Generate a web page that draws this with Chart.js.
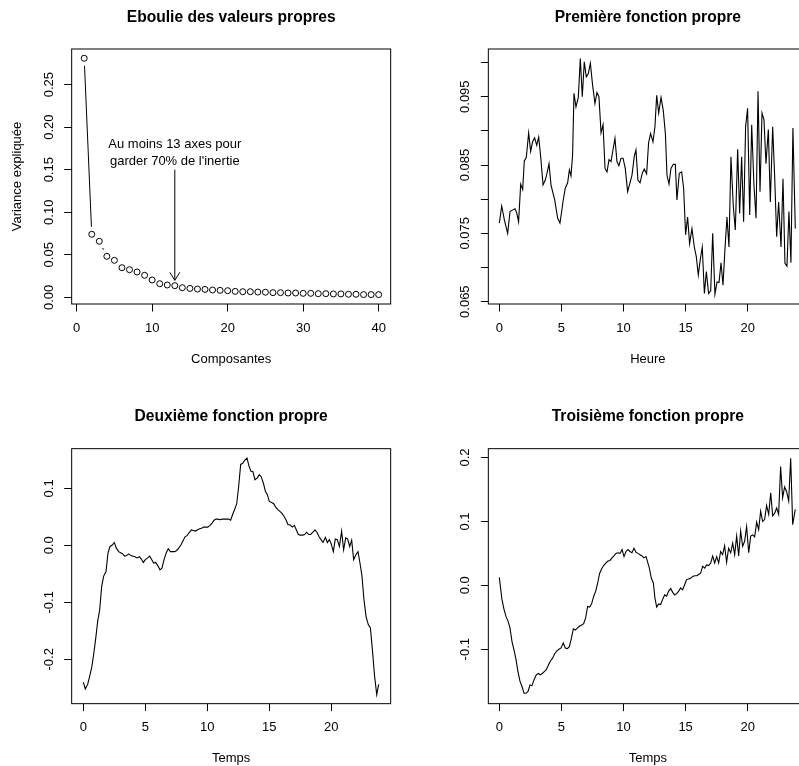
<!DOCTYPE html>
<html>
<head>
<meta charset="utf-8">
<title>Fonctions propres</title>
<script src="https://cdn.jsdelivr.net/npm/chart.js@4.4.1/dist/chart.umd.min.js"></script>
<style>
  html, body { margin: 0; padding: 0; background: #fff; overflow: hidden; }
  #page { position: relative; width: 799px; height: 766px; overflow: hidden; background: #fff; }
  canvas { position: absolute; }
</style>
</head>
<body>
<div id="page">
  <canvas id="c1" width="400" height="383" style="left:0;top:0"></canvas>
  <canvas id="c2" width="420" height="383" style="left:400px;top:0"></canvas>
  <canvas id="c3" width="400" height="383" style="left:0;top:383px"></canvas>
  <canvas id="c4" width="420" height="383" style="left:400px;top:383px"></canvas>
</div>
<script>
// ---- Eboulie des valeurs propres ----
const composantes = [1, 2, 3, 4, 5, 6, 7, 8, 9, 10, 11, 12, 13, 14, 15, 16, 17, 18, 19, 20,
  21, 22, 23, 24, 25, 26, 27, 28, 29, 30, 31, 32, 33, 34, 35, 36, 37, 38, 39, 40];
const varianceExpliquee = [0.281, 0.0741, 0.0659, 0.0482, 0.0435, 0.0348, 0.0325, 0.0298, 0.0259, 0.0204,
  0.0160, 0.0145, 0.0137, 0.0113, 0.0105, 0.0097, 0.0093, 0.0086, 0.0082, 0.0078,
  0.0070, 0.0066, 0.0066, 0.0062, 0.0060, 0.0055, 0.0055, 0.0051, 0.0051, 0.0047,
  0.0047, 0.0043, 0.0043, 0.0040, 0.0040, 0.0036, 0.0036, 0.0032, 0.0032, 0.0032];

// ---- Premiere fonction propre ----
const heure = [0.00, 0.19, 0.40, 0.67, 0.86, 1.05, 1.26, 1.40, 1.55, 1.72,
  1.88, 2.01, 2.17, 2.36, 2.52, 2.68, 2.84, 3.01, 3.17, 3.33,
  3.52, 3.70, 3.84, 4.00, 4.16, 4.32, 4.46, 4.59, 4.70, 4.88,
  5.02, 5.13, 5.31, 5.50, 5.64, 5.77, 5.90, 6.01, 6.17, 6.36,
  6.52, 6.68, 6.84, 7.00, 7.17, 7.33, 7.51, 7.70, 7.86, 8.02,
  8.19, 8.35, 8.51, 8.67, 8.83, 8.99, 9.15, 9.31, 9.47, 9.63,
  9.80, 9.96, 10.14, 10.33, 10.52, 10.68, 10.87, 11.00, 11.16, 11.33,
  11.51, 11.67, 11.86, 12.02, 12.18, 12.37, 12.53, 12.67, 12.83, 13.02,
  13.20, 13.37, 13.50, 13.66, 13.82, 14.01, 14.17, 14.30, 14.49, 14.68,
  14.84, 15.00, 15.16, 15.32, 15.51, 15.70, 15.86, 16.02, 16.18, 16.34,
  16.51, 16.67, 16.85, 17.02, 17.18, 17.36, 17.53, 17.69, 17.85, 18.01,
  18.17, 18.33, 18.49, 18.65, 18.84, 19.00, 19.19, 19.35, 19.51, 19.67,
  19.83, 19.99, 20.16, 20.32, 20.50, 20.67, 20.83, 20.99, 21.15, 21.31,
  21.47, 21.66, 21.82, 22.01, 22.17, 22.33, 22.49, 22.68, 22.84, 23.00,
  23.16, 23.32, 23.48, 23.64, 23.83];
const fonction1 = [0.0765, 0.0790, 0.0770, 0.0750, 0.0782, 0.0784, 0.0786, 0.0780, 0.0767, 0.0822,
  0.0814, 0.0856, 0.0861, 0.0897, 0.0870, 0.0884, 0.0890, 0.0879, 0.0891, 0.0862,
  0.0821, 0.0828, 0.0838, 0.0852, 0.0821, 0.0809, 0.0799, 0.0784, 0.0772, 0.0765,
  0.0782, 0.0797, 0.0816, 0.0824, 0.0843, 0.0834, 0.0865, 0.0955, 0.0935, 0.0949,
  0.1006, 0.0950, 0.1001, 0.0979, 0.0984, 0.0999, 0.0967, 0.0940, 0.0956, 0.0950,
  0.0897, 0.0909, 0.0845, 0.0840, 0.0858, 0.0855, 0.0872, 0.0889, 0.0855, 0.0849,
  0.0860, 0.0860, 0.0845, 0.0811, 0.0824, 0.0835, 0.0863, 0.0872, 0.0828, 0.0824,
  0.0838, 0.0844, 0.0837, 0.0883, 0.0896, 0.0884, 0.0906, 0.0952, 0.0926, 0.0949,
  0.0930, 0.0896, 0.0835, 0.0822, 0.0845, 0.0851, 0.0851, 0.0799, 0.0838, 0.0840,
  0.0816, 0.0748, 0.0774, 0.0735, 0.0757, 0.0730, 0.0716, 0.0689, 0.0712, 0.0730,
  0.0662, 0.0694, 0.0662, 0.0666, 0.0750, 0.0661, 0.0679, 0.0678, 0.0707, 0.0674,
  0.0728, 0.0774, 0.0730, 0.0862, 0.0789, 0.0755, 0.0873, 0.0779, 0.0862, 0.0767,
  0.0906, 0.0933, 0.0777, 0.0909, 0.0821, 0.0772, 0.0958, 0.0811, 0.0926, 0.0916,
  0.0852, 0.0902, 0.0796, 0.0906, 0.0833, 0.0745, 0.0796, 0.0730, 0.0830, 0.0706,
  0.0702, 0.0782, 0.0707, 0.0904, 0.0757];

// ---- Deuxieme fonction propre ----
const temps2 = [0.00, 0.16, 0.35, 0.51, 0.67, 0.83, 0.99, 1.16, 1.32, 1.48,
  1.64, 1.83, 1.99, 2.15, 2.31, 2.50, 2.66, 2.85, 3.01, 3.17,
  3.33, 3.49, 3.66, 3.84, 4.01, 4.17, 4.33, 4.52, 4.68, 4.84,
  5.00, 5.19, 5.35, 5.51, 5.67, 5.83, 6.02, 6.18, 6.34, 6.51,
  6.69, 6.85, 7.02, 7.20, 7.37, 7.53, 7.69, 7.88, 8.04, 8.20,
  8.36, 8.52, 8.71, 8.87, 9.03, 9.19, 9.38, 9.54, 9.70, 9.87,
  10.03, 10.22, 10.38, 10.54, 10.70, 10.86, 11.05, 11.21, 11.37, 11.53,
  11.72, 11.88, 12.04, 12.20, 12.37, 12.53, 12.69, 12.85, 13.01, 13.20,
  13.36, 13.52, 13.68, 13.84, 14.01, 14.19, 14.35, 14.52, 14.68, 14.84,
  15.00, 15.19, 15.35, 15.51, 15.67, 15.83, 16.02, 16.18, 16.34, 16.51,
  16.67, 16.85, 17.02, 17.18, 17.34, 17.50, 17.69, 17.85, 18.01, 18.17,
  18.33, 18.52, 18.68, 18.84, 19.01, 19.17, 19.33, 19.52, 19.68, 19.84,
  20.00, 20.16, 20.32, 20.48, 20.65, 20.83, 20.99, 21.16, 21.32, 21.48,
  21.64, 21.80, 21.99, 22.15, 22.31, 22.47, 22.63, 22.80, 22.98, 23.15,
  23.31, 23.49, 23.66, 23.82];
const fonction2 = [-0.240, -0.252, -0.244, -0.230, -0.215, -0.192, -0.165, -0.133, -0.113, -0.072,
  -0.054, -0.046, -0.013, -0.002, 0.000, 0.005, -0.005, -0.011, -0.013, -0.015,
  -0.019, -0.018, -0.015, -0.018, -0.019, -0.020, -0.022, -0.020, -0.024, -0.030,
  -0.025, -0.022, -0.019, -0.025, -0.031, -0.030, -0.036, -0.043, -0.040, -0.025,
  -0.013, -0.006, -0.011, -0.011, -0.011, -0.009, -0.005, 0.001, 0.008, 0.015,
  0.017, 0.022, 0.027, 0.026, 0.025, 0.027, 0.029, 0.030, 0.032, 0.032,
  0.032, 0.035, 0.039, 0.044, 0.046, 0.046, 0.045, 0.046, 0.046, 0.046,
  0.046, 0.044, 0.054, 0.063, 0.073, 0.104, 0.142, 0.144, 0.149, 0.153,
  0.139, 0.130, 0.129, 0.115, 0.118, 0.124, 0.120, 0.109, 0.095, 0.089,
  0.077, 0.075, 0.073, 0.067, 0.063, 0.060, 0.056, 0.051, 0.045, 0.036,
  0.036, 0.032, 0.035, 0.027, 0.019, 0.018, 0.018, 0.019, 0.023, 0.019,
  0.019, 0.023, 0.027, 0.023, 0.015, 0.010, 0.005, 0.014, 0.005, 0.010,
  0.002, -0.011, 0.011, 0.010, -0.002, 0.025, -0.008, 0.013, 0.011, -0.002,
  0.009, -0.025, -0.016, -0.011, -0.031, -0.054, -0.095, -0.125, -0.139, -0.145,
  -0.183, -0.230, -0.262, -0.244];

// ---- Troisieme fonction propre ----
const temps3 = [0.00, 0.21, 0.38, 0.54, 0.70, 0.86, 1.02, 1.18, 1.34, 1.50,
  1.66, 1.82, 1.99, 2.15, 2.31, 2.47, 2.63, 2.79, 2.98, 3.14,
  3.30, 3.46, 3.62, 3.78, 3.97, 4.13, 4.29, 4.46, 4.62, 4.80,
  4.97, 5.15, 5.31, 5.48, 5.64, 5.80, 5.96, 6.12, 6.28, 6.44,
  6.63, 6.79, 6.95, 7.11, 7.27, 7.43, 7.60, 7.76, 7.92, 8.08,
  8.24, 8.40, 8.59, 8.75, 8.91, 9.07, 9.23, 9.39, 9.55, 9.72,
  9.88, 10.04, 10.20, 10.36, 10.52, 10.68, 10.84, 11.00, 11.16, 11.33,
  11.49, 11.65, 11.81, 11.92, 12.08, 12.24, 12.40, 12.53, 12.67, 12.83,
  12.99, 13.15, 13.31, 13.47, 13.63, 13.80, 13.96, 14.12, 14.28, 14.44,
  14.60, 14.76, 14.92, 15.08, 15.24, 15.41, 15.57, 15.73, 15.89, 16.05,
  16.21, 16.37, 16.53, 16.69, 16.85, 17.02, 17.18, 17.34, 17.50, 17.66,
  17.82, 17.98, 18.14, 18.30, 18.46, 18.63, 18.79, 18.95, 19.11, 19.27,
  19.43, 19.59, 19.75, 19.91, 20.08, 20.24, 20.40, 20.56, 20.72, 20.88,
  21.04, 21.20, 21.36, 21.52, 21.69, 21.85, 22.01, 22.17, 22.33, 22.49,
  22.65, 22.81, 22.97, 23.13, 23.30, 23.46, 23.62, 23.83];
const fonction3 = [0.0125, -0.022, -0.038, -0.049, -0.056, -0.067, -0.088, -0.101, -0.116, -0.135,
  -0.150, -0.158, -0.169, -0.169, -0.166, -0.156, -0.157, -0.148, -0.140, -0.138,
  -0.140, -0.138, -0.135, -0.132, -0.124, -0.118, -0.114, -0.107, -0.103, -0.100,
  -0.098, -0.090, -0.098, -0.099, -0.096, -0.083, -0.068, -0.070, -0.067, -0.064,
  -0.062, -0.060, -0.051, -0.033, -0.034, -0.029, -0.017, -0.009, 0.004, 0.019,
  0.026, 0.031, 0.035, 0.038, 0.039, 0.043, 0.046, 0.050, 0.051, 0.050,
  0.056, 0.045, 0.053, 0.056, 0.053, 0.051, 0.058, 0.052, 0.050, 0.048,
  0.046, 0.043, 0.045, 0.038, 0.027, 0.011, 0.004, -0.020, -0.034, -0.029,
  -0.030, -0.022, -0.015, -0.017, -0.009, -0.005, -0.011, -0.015, -0.013, -0.009,
  -0.004, -0.007, 0.001, 0.009, 0.010, 0.011, 0.014, 0.015, 0.015, 0.017,
  0.019, 0.030, 0.027, 0.032, 0.031, 0.035, 0.046, 0.035, 0.045, 0.035,
  0.053, 0.048, 0.062, 0.036, 0.058, 0.051, 0.066, 0.048, 0.077, 0.046,
  0.085, 0.061, 0.069, 0.092, 0.051, 0.077, 0.079, 0.076, 0.099, 0.087,
  0.116, 0.100, 0.103, 0.125, 0.111, 0.145, 0.109, 0.113, 0.121, 0.111,
  0.186, 0.137, 0.154, 0.147, 0.132, 0.199, 0.095, 0.119];

// ---- graduations ----
const ticksX40 = [0, 10, 20, 30, 40];
const ticksX24 = [0, 5, 10, 15, 20];
const ticksY1 = [0, 0.05, 0.10, 0.15, 0.20, 0.25];
const labelsY1 = ['0.00', '0.05', '0.10', '0.15', '0.20', '0.25'];
const ticksY2 = [0.065, 0.070, 0.075, 0.080, 0.085, 0.090, 0.095, 0.100];
const labelsY2 = ['0.065', '', '0.075', '', '0.085', '', '0.095', ''];
const ticksY3 = [-0.2, -0.1, 0, 0.1];
const labelsY3 = ['-0.2', '-0.1', '0.0', '0.1'];
const ticksY4 = [-0.1, 0, 0.1, 0.2];
const labelsY4 = ['-0.1', '0.0', '0.1', '0.2'];

// annotation of the scree plot
const noteX = 13, noteY = 0.17;
const noteLines = ['Au moins 13 axes pour', "garder 70% de l'inertie"];
const arrowX = 13, arrowFrom = 0.15, arrowTo = 0.02;

const FONT = '"Liberation Sans", Arial, Helvetica, sans-serif';
Chart.defaults.font.family = FONT;
Chart.defaults.color = '#000';

const pts = (xs, ys) => xs.map((x, i) => ({ x: x, y: ys[i] }));

// box around the plot region, like R's box()
const boxPlugin = {
  id: 'rbox',
  afterDatasetsDraw(chart) {
    const { ctx, chartArea: a } = chart;
    ctx.save();
    ctx.strokeStyle = '#000';
    ctx.lineWidth = 1;
    ctx.strokeRect(a.left, a.top, a.right - a.left, a.bottom - a.top);
    ctx.restore();
  }
};

// y tick labels written parallel to the axis
const yLabelPlugin = {
  id: 'rYLabels',
  afterDraw(chart, args, opts) {
    const { ctx, chartArea: a } = chart;
    const y = chart.scales.y;
    ctx.save();
    ctx.fillStyle = '#000';
    ctx.font = '13px ' + FONT;
    ctx.textAlign = 'center';
    ctx.textBaseline = 'middle';
    opts.values.forEach((v, i) => {
      if (!opts.labels[i]) return;
      ctx.save();
      ctx.translate(a.left - 22.5, y.getPixelForValue(v));
      ctx.rotate(-Math.PI / 2);
      ctx.fillText(opts.labels[i], 0, 0);
      ctx.restore();
    });
    ctx.restore();
  }
};

// type="b" segments, arrow and note on the scree plot
const screePlugin = {
  id: 'scree',
  afterDatasetsDraw(chart) {
    const { ctx, scales: { x, y } } = chart;
    const gap = 7.5;
    ctx.save();
    ctx.strokeStyle = '#000';
    ctx.lineWidth = 1;
    for (let i = 0; i < composantes.length - 1; i++) {
      const x0 = x.getPixelForValue(composantes[i]), y0 = y.getPixelForValue(varianceExpliquee[i]);
      const x1 = x.getPixelForValue(composantes[i + 1]), y1 = y.getPixelForValue(varianceExpliquee[i + 1]);
      const d = Math.hypot(x1 - x0, y1 - y0);
      if (d <= 2 * gap) continue;
      const ux = (x1 - x0) / d, uy = (y1 - y0) / d;
      ctx.beginPath();
      ctx.moveTo(x0 + ux * gap, y0 + uy * gap);
      ctx.lineTo(x1 - ux * gap, y1 - uy * gap);
      ctx.stroke();
    }
    // arrow
    const ax = x.getPixelForValue(arrowX);
    const ay0 = y.getPixelForValue(arrowFrom), ay1 = y.getPixelForValue(arrowTo);
    ctx.beginPath();
    ctx.moveTo(ax, ay0);
    ctx.lineTo(ax, ay1);
    ctx.moveTo(ax - 5, ay1 - 8);
    ctx.lineTo(ax, ay1);
    ctx.lineTo(ax + 5, ay1 - 8);
    ctx.stroke();
    // note
    ctx.fillStyle = '#000';
    ctx.font = '13px ' + FONT;
    ctx.textAlign = 'center';
    ctx.textBaseline = 'middle';
    const nx = x.getPixelForValue(noteX), ny = y.getPixelForValue(noteY);
    ctx.fillText(noteLines[0], nx, ny - 8.3);
    ctx.fillText(noteLines[1], nx, ny + 8.3);
    ctx.restore();
  }
};

function makeChart(id, g, p) {
  const grid = { drawOnChartArea: false, drawTicks: true, tickLength: 7.5, color: '#000', tickColor: '#000', lineWidth: 1 };
  return new Chart(document.getElementById(id), {
    type: 'line',
    data: { datasets: p.datasets },
    options: {
      responsive: false,
      animation: false,
      devicePixelRatio: 1,
      layout: { padding: { left: 0, top: 0, right: g.W - g.right, bottom: 0 } },
      plugins: {
        legend: { display: false },
        tooltip: { enabled: false },
        title: {
          display: true,
          text: p.title,
          fullSize: false,
          color: '#000',
          font: { size: 15.6, weight: 'bold', lineHeight: 1.2 },
          padding: { top: g.titleY - 9.36, bottom: g.top - (g.titleY - 9.36) - 18.72 }
        },
        rYLabels: { values: p.yTicks, labels: p.yLabels }
      },
      scales: {
        x: {
          type: 'linear',
          min: p.xMin, max: p.xMax,
          afterBuildTicks: s => { s.ticks = p.xTicks.map(v => ({ value: v })); },
          afterFit: s => { s.height = g.H - g.bottom; },
          grid: grid,
          border: { display: false },
          ticks: { padding: g.xTickY - g.bottom - 7.5 - 7.8, font: { size: 13 }, color: '#000', maxRotation: 0, autoSkip: false },
          title: {
            display: true, text: p.xTitle, color: '#000',
            font: { size: 13, lineHeight: 1 },
            padding: { top: 0, bottom: g.H - g.xTitleY - 6.5 }
          }
        },
        y: {
          type: 'linear',
          min: p.yMin, max: p.yMax,
          afterBuildTicks: s => { s.ticks = p.yTicks.map(v => ({ value: v })); },
          afterFit: s => { s.width = g.left; },
          grid: grid,
          border: { display: false },
          ticks: { display: false },
          title: p.yTitle ? {
            display: true, text: p.yTitle, color: '#000',
            font: { size: 13, lineHeight: 1 },
            padding: { top: g.yTitleX - 6.5, bottom: 0 }
          } : { display: false }
        }
      }
    },
    plugins: [boxPlugin, yLabelPlugin].concat(p.extra || [])
  });
}

const lineSet = (xs, ys) => ({
  data: pts(xs, ys), borderColor: '#000', borderWidth: 1.1,
  pointRadius: 0, tension: 0, fill: false
});

makeChart('c1',
  { W: 400, H: 383, left: 71.67, right: 390.67, top: 49, bottom: 304, titleY: 17.33, xTickY: 328.33, xTitleY: 359.33, yTitleX: 17.33 },
  {
    title: 'Eboulie des valeurs propres', xTitle: 'Composantes', yTitle: 'Variance expliquée',
    xMin: -0.66, xMax: 41.59, yMin: -0.00784, yMax: 0.2919,
    xTicks: ticksX40, yTicks: ticksY1, yLabels: labelsY1,
    datasets: [{
      data: pts(composantes, varianceExpliquee), showLine: false,
      pointRadius: 3, pointBorderWidth: 1, pointBorderColor: '#000',
      pointBackgroundColor: 'rgba(0,0,0,0)', borderColor: '#000'
    }],
    extra: [screePlugin]
  });

makeChart('c2',
  { W: 420, H: 383, left: 88.33, right: 407.33, top: 49, bottom: 304, titleY: 17.33, xTickY: 328.33, xTitleY: 359.33 },
  {
    title: 'Première fonction propre', xTitle: 'Heure',
    xMin: -0.886, xMax: 24.80, yMin: 0.06466, yMax: 0.10198,
    xTicks: ticksX24, yTicks: ticksY2, yLabels: labelsY2,
    datasets: [lineSet(heure, fonction1)]
  });

makeChart('c3',
  { W: 400, H: 383, left: 71.67, right: 390.67, top: 65.67, bottom: 320.67, titleY: 34, xTickY: 344.33, xTitleY: 375.67 },
  {
    title: 'Deuxième fonction propre', xTitle: 'Temps',
    xMin: -0.940, xMax: 24.785, yMin: -0.2778, yMax: 0.1696,
    xTicks: ticksX24, yTicks: ticksY3, yLabels: labelsY3,
    datasets: [lineSet(temps2, fonction2)]
  });

makeChart('c4',
  { W: 420, H: 383, left: 88.33, right: 407.33, top: 65.67, bottom: 320.67, titleY: 34, xTickY: 344.33, xTitleY: 375.67 },
  {
    title: 'Troisième fonction propre', xTitle: 'Temps',
    xMin: -0.886, xMax: 24.80, yMin: -0.1852, yMax: 0.2139,
    xTicks: ticksX24, yTicks: ticksY4, yLabels: labelsY4,
    datasets: [lineSet(temps3, fonction3)]
  });
</script>
</body>
</html>
